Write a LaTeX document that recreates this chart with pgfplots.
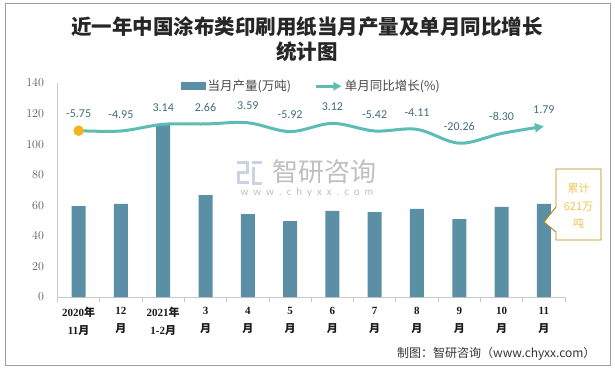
\documentclass[border=0pt]{standalone}
\usepackage{fontspec}
\setmainfont{Carlito}
\newfontfamily\cjk{Noto Sans CJK SC}
\newfontfamily\dserif{Liberation Serif}
\usepackage{pgfplots}
\pgfplotsset{compat=1.18}
\usetikzlibrary{arrows.meta}
\definecolor{barc}{HTML}{5B8FA6}
\definecolor{linec}{HTML}{5BBDB3}
\definecolor{lblc}{HTML}{3E6E7E}
\definecolor{dotc}{HTML}{F5B31F}
\definecolor{tickc}{HTML}{595959}
\definecolor{axc}{HTML}{C8C8C8}
\definecolor{callc}{HTML}{F3C458}
\definecolor{callb}{HTML}{B8860B}
\definecolor{logoc}{HTML}{C9D3E3}
\newcommand\xl[4]{{\dserif\bfseries #1}{\cjk\bfseries #2}\\{\dserif\bfseries #3}{\cjk\bfseries #4}}
\pgfplotstableread{
x y label
0 108.8 -5.75
1 108.6 -4.95
2 113.0 3.14
3 113.2 2.66
4 114.0 3.59
5 108.2 -5.92
6 113.6 3.12
7 108.6 -5.42
8 109.7 -4.11
9 100.6 -20.26
10 107.0 -8.30
11 111.6 1.79
}\growth
\begin{document}
\begin{tikzpicture}[x=1pt,y=1pt]
\useasboundingbox (0,0) rectangle (615,368);
\draw[gray!75, line width=0.8pt] (5,3) rectangle (610.5,365);
% title
\node[align=center, font=\cjk\bfseries\fontsize{20.5}{25}\selectfont, text=black!85] at (307,329) {近一年中国涂布类印刷用纸当月产量及单月同比增长\\统计图};
% watermark
\fill[logoc] (237,204) rectangle (249,207);
\fill[logoc] (246,194) rectangle (249,207);
\fill[logoc] (237,194) rectangle (249,197);
\fill[logoc] (237,184) rectangle (240,194);
\fill[logoc] (237,184) rectangle (249,187);
\fill[logoc] (252,204) rectangle (262,207);
\fill[logoc] (252,186) rectangle (255,201);
\fill[logoc] (252,183) rectangle (262,186);
\node[font=\cjk\fontsize{26}{28}\selectfont, text=black!25] at (324,196) {智研咨询};
\node[font=\fontsize{11}{12}\selectfont, text=black!25] at (307,175) {w\ \ w\ \ w\ \ .\ \ c\ \ h\ \ y\ \ x\ \ x\ \ .\ \ c\ \ o\ \ m};
\begin{axis}[
  at={(57.5pt,71pt)}, anchor=south west, scale only axis,
  width=507.5pt, height=214pt,
  xmin=-0.5, xmax=11.5, ymin=0, ymax=140,
  ytick={0,20,...,140},
  xtick={0,...,11},
  xticklabels={{\xl{2020}{年}{11}{月}},{\xl{12}{}{}{月}},{\xl{2021}{年}{1-2}{月}},{\xl{3}{}{}{月}},{\xl{4}{}{}{月}},{\xl{5}{}{}{月}},{\xl{6}{}{}{月}},{\xl{7}{}{}{月}},{\xl{8}{}{}{月}},{\xl{9}{}{}{月}},{\xl{10}{}{}{月}},{\xl{11}{}{}{月}}},
  minor xtick={-0.5,0.5,...,11.5},
  axis x line*=bottom, axis y line*=left,
  axis line style={axc, -, line width=0.8pt},
  major tick length=0pt, minor tick length=5pt, tick align=outside,
  minor tick style={axc, line width=0.8pt},
  yticklabel style={text=tickc, font=\fontsize{11.5}{13}\selectfont, xshift=-10pt},
  xticklabel style={align=center, text=black!90, font=\fontsize{11}{18}\selectfont, yshift=-7pt},
  legend style={at={(0.5,0.985)}, anchor=center, draw=none, fill=none, font=\cjk\fontsize{12.5}{14}\selectfont, text=tickc!80!black, /tikz/every even column/.append style={column sep=22pt}},
  legend columns=2,
  clip=false,
]
\addplot[ybar, bar width=14pt, fill=barc, draw=none,
  legend image code/.code={\fill[barc] (0pt,-4pt) rectangle (25pt,4pt);}]
  coordinates {(0,59.5) (1,61.0) (2,113.0) (3,66.7) (4,54.3) (5,49.7) (6,56.3) (7,55.6) (8,57.6) (9,51.0) (10,58.9) (11,60.9)};
\addlegendentry{当月产量(万吨)}
\addplot[linec, line width=3pt, smooth, tension=0.55, -{Triangle[length=9pt,width=9pt]},
  nodes near coords, point meta=explicit symbolic,
  nodes near coords style={anchor=south, yshift=8pt, text=lblc, font=\fontsize{12}{13}\selectfont},
  legend image code/.code={\draw[linec, line width=3pt, -{Triangle[length=8pt,width=8pt]}] (0pt,0pt) -- (25pt,0pt);}]
  table[x=x, y=y, meta=label] {\growth};
\addlegendentry{单月同比增长(\%)}
\addplot[only marks, mark=*, mark size=5pt, mark options={fill=dotc, draw=dotc}, forget plot] coordinates {(0,108.8)};
\end{axis}
% callout
\draw[callb, line width=0.9pt, fill=white] (556,199) -- (601,199) -- (601,128) -- (556,128) -- (556,136) -- (544,146) -- (556,161) -- cycle;
\node[align=center, text=callc, font=\cjk\fontsize{11}{17.5}\selectfont] at (578.5,162) {累计\\621万\\吨};
% source
\node[anchor=east, font=\cjk\fontsize{12}{14}\selectfont, text=black!80] at (599,14) {制图：智研咨询（www.chyxx.com）};
\end{tikzpicture}
\end{document}
